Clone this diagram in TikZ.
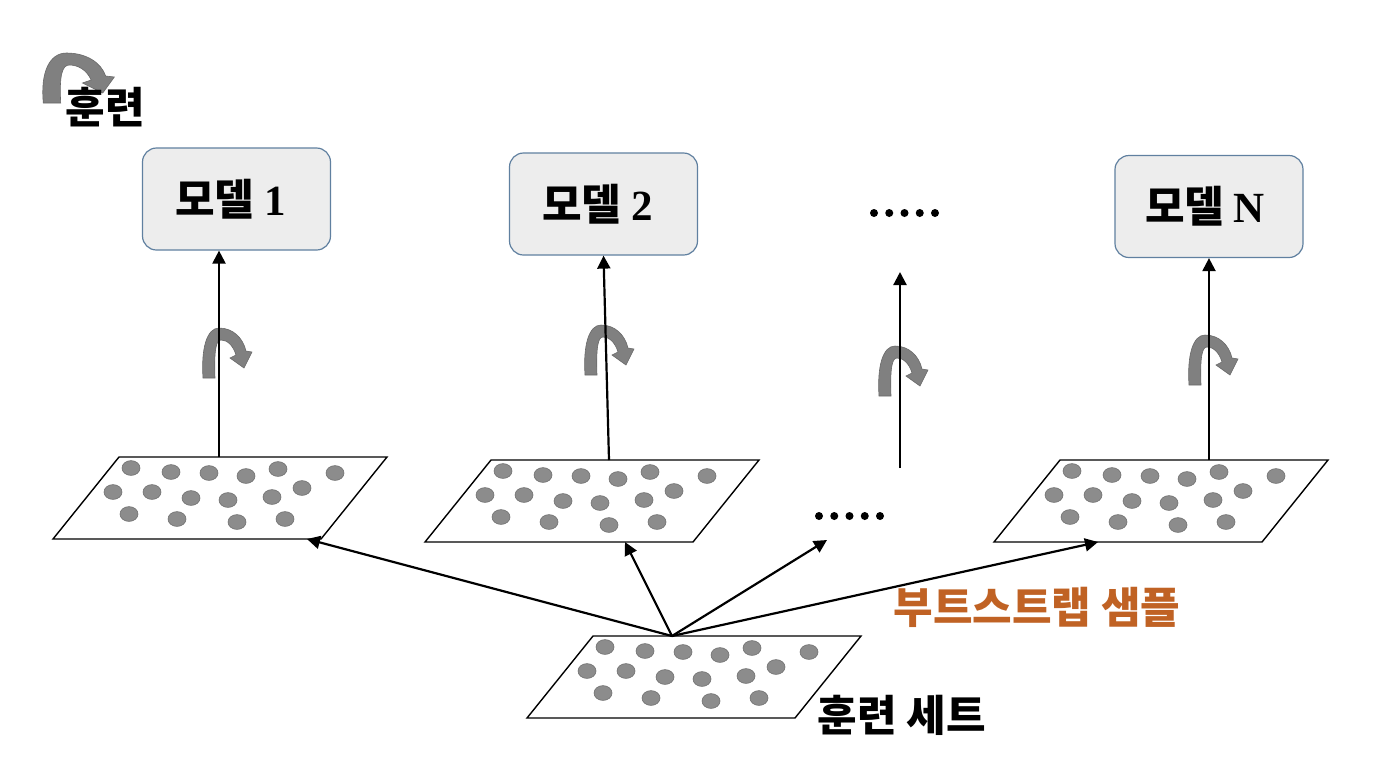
\documentclass[tikz,border=0pt]{standalone}
\usepackage{fontspec}
\setmainfont{Liberation Serif}
\newfontfamily\kr{Noto Sans CJK KR}[BoldFont={Noto Sans CJK KR Black}]
\usetikzlibrary{arrows.meta}
\definecolor{boxfill}{RGB}{237,237,237}
\definecolor{boxline}{RGB}{96,128,160}
\definecolor{dotfill}{RGB}{140,140,140}
\definecolor{dotline}{RGB}{112,112,112}
\definecolor{turngray}{RGB}{128,128,128}
\definecolor{turnedge}{RGB}{105,105,105}
\definecolor{bsorange}{RGB}{192,98,36}
\tikzset{
 modelbox/.style={draw=boxline, fill=boxfill, line width=0.6pt, rounded corners=7pt, minimum width=94pt, minimum height=51pt, inner sep=0pt, font=\kr\bfseries\fontsize{21.5}{24}\selectfont},
 setedge/.style={draw=black, line width=0.7pt},
 datadot/.style={fill=dotfill, draw=dotline, line width=0.3pt},
 link/.style={draw=black, line width=1.1pt, -{Triangle[length=6.5pt,width=6.5pt]}},
 turnshape/.style={fill=turngray, draw=turnedge, line width=0.3pt},
 bigdot/.style={circle, fill=black, inner sep=0pt, minimum size=4pt},
 txtlabel/.style={font=\kr\bfseries\fontsize{21.5}{24}\selectfont, inner sep=0pt},
 curl/.pic={\path[turnshape] (-6,0) .. controls (-8,-30) and (-2,-50) .. (10,-50)
   .. controls (24,-50) and (34,-40) .. (37,-27) -- (43,-26) -- (35,-10) -- (21,-20) -- (27,-23)
   .. controls (24,-33) and (18,-38) .. (12,-38)
   .. controls (7,-38) and (5,-28) .. (6,0) -- cycle;}
}
\newcommand\sampleset[3]{%
 \coordinate (#1) at (#2,#3);
 \draw[setedge] (#1) -- ++(268,0) -- ++(-66,82) -- ++(-268,0) -- cycle;
 \foreach \dx/\dy in {12/11,52/15,90/16,127/19,159/12,216/16,-6/35,33/35,72/41,109/43,153/40,183/31,10/57,58/62,118/65,166/62}
   \path[datadot] ([shift={(\dx,\dy)}]#1) ellipse[x radius=4.5pt, y radius=3.7pt];
}
\begin{document}
\begin{tikzpicture}[x=0.5pt,y=-0.5pt]
\fill[white] (0,0) rectangle (1376,768);
\useasboundingbox (0,0) rectangle (1376,768);

% legend
\pic[xscale=1.45] at (52,103) {curl};
\node[txtlabel] (train) at (105,107) {훈련};

% models
\node[modelbox] (m1) at (236.5,199) {모델 {\rmfamily\bfseries 1}\kern6pt};
\node[modelbox] (m2) at (603.5,204) {모델 {\rmfamily\bfseries 2}\kern6pt};
\node[modelbox] (mN) at (1209,206.5) {모델 {\rmfamily\bfseries N}\kern4pt};

% ellipsis dots
\foreach \i in {0,...,4} {
  \node[bigdot] (top\i) at (874+15.25*\i,213) {};
  \node[bigdot] (mid\i) at (819+15.25*\i,516) {};
}

% sample sets
\sampleset{s1}{119}{457}
\sampleset{s2}{491}{460}
\sampleset{sN}{1060}{460}
\sampleset{ts}{593}{636}

% curls
\pic at (209,378) {curl};
\pic at (591,375) {curl};
\pic at (885,396) {curl};
\pic at (1195,385) {curl};

% connector end points
\coordinate (s1up) at (219,457);
\coordinate (s2up) at (609,460);
\coordinate (sNup) at (1209,460);
\coordinate (c3low) at (900,468);
\coordinate (c3high) at (900,272);
\coordinate (tsup) at (672,636);
\coordinate (b1) at (307,539);
\coordinate (b2) at (625,542);
\coordinate (b3) at (827,540);
\coordinate (bN) at (1098,542);

% training arrows
\draw[link] (s1up) -- (s1up |- m1.south);
\draw[link] (s2up) -- (m2.south);
\draw[link] (c3low) -- (c3high);
\draw[link] (sNup) -- (mN.south);

% bootstrap arrows
\draw[link] (tsup) -- (b1);
\draw[link] (tsup) -- (b2);
\draw[link] (tsup) -- (b3);
\draw[link] (tsup) -- (bN);

% labels
\node[txtlabel, text=bsorange] (boot) at (1037,607) {부트스트랩 샘플};
\node[txtlabel] (trainset) at (902,715) {훈련 세트};
\end{tikzpicture}
\end{document}
